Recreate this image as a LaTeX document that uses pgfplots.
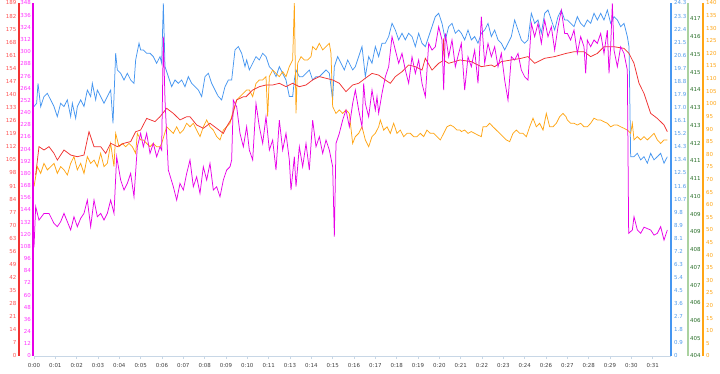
\documentclass[border=0pt]{standalone}
\usepackage{fontspec}
\setmainfont{DejaVu Sans}
\usepackage{pgfplots}
\pgfplotsset{compat=1.18}
\definecolor{redc}{RGB}{240,50,50}
\definecolor{redlab}{RGB}{255,80,80}
\definecolor{magc}{RGB}{232,0,232}
\definecolor{maglab}{RGB}{255,50,255}
\definecolor{bluec}{RGB}{70,150,240}
\definecolor{bluelab}{RGB}{80,155,235}
\definecolor{orangec}{RGB}{255,165,20}
\definecolor{greenline}{RGB}{170,210,160}
\definecolor{greenlab}{RGB}{40,110,40}
\definecolor{xline}{RGB}{200,215,230}
\pgfplotsset{
  base/.style={scale only axis, width=637bp, height=353bp, xmin=0, xmax=1911,
    at={(0,0)}, anchor=south west,
    axis line style={-},
    /pgf/number format/assume math mode=true,
    tick label style={font=\fontsize{5.5}{6}\selectfont},
    major tick length=0pt,
    every axis plot/.append style={line width=0.75bp, mark=none},
  },
}
\begin{document}
\begin{tikzpicture}
% x axis
\begin{axis}[base, hide y axis, ymin=0, ymax=1, axis x line*=bottom,
  x axis line style={draw=xline, line width=1bp},
  xtick={0,64,...,1856},
  xticklabels={0:00,0:01,0:02,0:03,0:04,0:05,0:06,0:07,0:08,0:09,0:10,0:11,0:13,0:14,0:15,0:16,0:17,0:18,0:19,0:20,0:21,0:22,0:23,0:24,0:26,0:27,0:28,0:29,0:30,0:31},
  major tick length=3bp, tick align=outside, xtick style={draw=xline, line width=0.8bp},
  xticklabel style={text=black!75, inner sep=1bp, yshift=-3bp}]
\end{axis}
% blue
\begin{axis}[base, hide x axis, axis y line*=right, ymin=0, ymax=24.3,
  ytick={0,0.9,...,24.4},
  yticklabels={0,0.9,1.8,2.7,3.6,4.5,5.4,6.3,7.2,8.1,8.9,9.8,10.7,11.6,12.5,13.4,14.3,15.2,16.1,17.0,17.9,18.8,19.7,20.6,21.5,22.4,23.3,24.3},
  y axis line style={draw=bluec, line width=2bp},
  yticklabel style={text=bluelab, inner sep=1bp, anchor=west, xshift=2bp}]
\addplot[bluec] coordinates {
(0,17.17)(8,17.40)(12,18.77)(20,17.17)(30,17.86)(40,18.08)(50,17.63)(60,17.17)(70,16.48)(80,17.40)(90,17.17)(100,17.63)(110,16.48)(115,17.40)(125,16.36)(130,17.17)(140,17.63)(150,17.17)(160,18.31)(170,17.86)(175,18.77)(185,17.63)(190,18.31)(200,17.86)(210,17.40)(220,17.86)(230,18.31)(237,16.02)(245,20.84)(250,19.69)(260,19.46)(270,19.00)(280,19.46)(290,19.00)(300,18.77)(305,20.38)(315,21.53)(320,21.07)
(328,21.07)(338,20.84)(348,20.84)(358,20.61)(368,20.15)(378,20.61)(383,20.15)(388,24.28)(393,19.92)(403,19.23)(413,18.54)(423,19.00)(433,18.77)(443,19.00)(453,18.54)(463,19.23)(473,18.77)(483,18.54)(493,18.31)(503,17.86)(513,19.23)(523,19.46)(533,18.77)(543,18.31)(553,17.86)(563,17.63)(573,18.54)(583,19.00)(593,19.00)(603,21.07)(613,21.30)(623,20.84)(633,19.92)(638,20.38)
(646,19.69)(656,20.15)(666,20.61)(676,20.38)(686,20.84)(696,20.61)(706,19.92)(716,19.69)(726,19.23)(736,19.92)(746,19.46)(756,19.00)(766,17.86)(776,17.86)(781,19.00)(786,19.69)(796,19.23)(806,19.23)(816,19.46)(826,19.69)(836,19.00)(846,19.23)(856,19.23)(866,19.46)(876,19.69)(886,19.46)(896,17.63)(901,19.92)(911,20.61)(921,20.15)(931,19.69)(941,20.38)(951,19.92)(956,19.69)
(964,19.92)(974,20.61)(984,21.30)(994,19.23)(1004,20.61)(1014,20.15)(1024,21.30)(1034,20.61)(1044,21.53)(1054,21.53)(1064,21.99)(1074,22.90)(1084,22.44)(1094,21.76)(1104,22.22)(1114,21.76)(1124,22.22)(1134,21.99)(1144,21.30)(1154,22.22)(1164,21.53)(1174,21.30)(1184,21.99)(1194,22.67)(1204,23.36)(1214,23.59)(1224,22.90)(1234,21.76)(1244,22.67)(1254,22.90)(1264,22.22)(1274,22.44)
(1282,22.22)(1292,21.76)(1302,22.44)(1312,21.76)(1322,21.99)(1332,21.53)(1342,22.22)(1352,22.44)(1362,22.90)(1372,21.99)(1382,22.44)(1392,21.76)(1402,21.53)(1412,21.07)(1422,21.53)(1432,21.99)(1442,23.13)(1452,22.44)(1462,21.76)(1472,21.53)(1482,21.76)(1492,23.59)(1502,22.90)(1512,23.13)(1522,22.22)(1532,23.59)(1542,23.82)(1552,23.13)(1562,22.44)(1572,23.36)(1582,23.82)(1592,23.13)
(1600,23.13)(1610,22.90)(1620,22.67)(1630,23.36)(1640,22.90)(1650,22.67)(1660,23.13)(1670,22.90)(1680,23.59)(1690,23.13)(1700,23.59)(1710,23.13)(1720,23.82)(1730,22.90)(1740,23.36)(1750,23.13)(1760,22.67)(1770,22.90)(1780,21.99)(1785,21.30)(1790,13.72)(1800,13.72)(1810,13.95)(1820,13.50)(1830,13.72)(1840,13.27)(1850,13.95)(1860,13.50)(1870,13.72)(1880,13.95)(1890,13.27)(1900,13.72)
};
\end{axis}
% green (axis only)
\begin{axis}[base, hide x axis, axis y line*=right, ymin=0, ymax=19.9,
  ytick={0,1,...,19},
  yticklabels={404,405,406,406,407,407,408,409,409,410,411,411,412,413,413,414,415,415,416,417},
  y axis line style={draw=greenline, line width=2bp, xshift=17bp},
  yticklabel style={text=greenlab, inner sep=1bp, anchor=west, xshift=18bp}]
\end{axis}
% orange
\begin{axis}[base, hide x axis, axis y line*=right, ymin=0, ymax=140,
  ytick={0,5,...,140},
  y axis line style={draw=orangec, line width=2bp, xshift=32bp},
  yticklabel style={text=orangec, inner sep=1bp, anchor=west, xshift=34bp}]
\addplot[orangec] coordinates {
(0,67.2)(10,75.1)(20,72.4)(30,76.4)(40,73.8)(50,75.1)(60,76.4)(70,72.4)(80,75.1)(90,73.8)(100,71.8)(110,76.4)(120,79.1)(130,73.8)(140,76.4)(150,72.4)(160,79.1)(170,76.4)(180,77.7)(190,75.1)(200,80.4)(210,75.1)(220,76.4)(230,84.3)(240,75.1)(245,88.3)(255,83.0)(265,84.3)(275,83.0)(285,84.3)(295,83.0)(305,80.4)(310,88.3)(320,85.7)
(328,85.7)(338,84.3)(348,83.0)(358,84.3)(368,83.0)(378,83.0)(383,84.3)(398,90.9)(418,88.3)(428,90.9)(438,88.3)(448,89.6)(458,92.3)(468,90.9)(478,92.3)(488,89.6)(498,87.0)(508,90.9)(518,93.6)(528,90.9)(538,89.6)(548,87.0)(558,85.7)(568,89.6)(578,90.9)(588,92.3)(598,97.6)(608,101.5)(618,102.9)(628,104.2)(638,105.5)
(646,105.5)(656,102.9)(666,108.1)(676,109.5)(686,109.5)(696,110.8)(701,94.9)(706,110.8)(716,113.4)(726,112.1)(736,110.8)(746,112.8)(756,110.8)(766,114.8)(776,117.4)(781,139.9)(786,96.2)(791,116.1)(801,118.7)(811,117.4)(821,117.4)(831,118.7)(836,122.7)(846,121.4)(856,124.0)(866,121.4)(876,122.7)(886,124.0)(891,120.0)(896,98.9)(906,96.2)(916,97.6)(926,96.2)(936,97.6)(946,96.2)(956,84.3)
(964,87.0)(974,88.3)(984,90.9)(994,85.7)(1004,83.0)(1014,87.0)(1024,88.3)(1034,90.9)(1039,93.6)(1049,89.6)(1059,90.9)(1069,88.3)(1079,92.3)(1089,88.3)(1099,89.6)(1109,87.0)(1119,88.3)(1129,88.3)(1139,87.0)(1149,87.0)(1159,88.3)(1169,87.0)(1179,89.6)(1189,88.3)(1199,88.3)(1209,87.0)(1219,85.7)(1229,88.3)(1239,90.9)(1249,91.6)(1259,90.9)(1269,89.6)(1278,89.6)
(1282,89.0)(1292,89.6)(1302,88.3)(1312,89.0)(1322,88.3)(1332,87.6)(1342,87.0)(1347,90.9)(1357,90.9)(1367,92.3)(1377,90.9)(1387,89.6)(1397,88.3)(1407,87.0)(1417,85.7)(1427,85.0)(1437,88.3)(1447,89.6)(1457,88.3)(1467,88.3)(1477,87.0)(1487,90.9)(1497,94.3)(1507,90.9)(1517,92.3)(1527,89.6)(1537,96.2)(1547,90.9)(1557,90.9)(1567,92.3)(1577,94.9)(1587,96.2)(1596,94.9)
(1600,93.6)(1610,92.3)(1620,92.3)(1630,91.6)(1640,92.3)(1650,90.9)(1660,90.9)(1670,92.3)(1680,94.3)(1690,93.6)(1700,93.6)(1710,92.9)(1720,92.3)(1730,90.9)(1740,91.6)(1750,91.6)(1760,90.9)(1770,90.3)(1780,89.6)(1790,88.3)(1795,92.3)(1800,85.7)(1810,87.0)(1820,85.7)(1830,87.0)(1840,85.7)(1850,87.0)(1860,88.3)(1870,85.7)(1880,84.3)(1890,85.7)(1900,85.7)
};
\end{axis}
% red
\begin{axis}[base, hide x axis, axis y line*=left, ymin=0, ymax=189,
  ytick={0,7,...,189},
  y axis line style={draw=redc, line width=2.5bp, xshift=-15bp},
  yticklabel style={text=redlab, inner sep=1bp, anchor=east, xshift=-16.5bp}]
\addplot[redc] coordinates {
(5,96.9)(15,112.1)(30,110.3)(45,112.1)(60,108.5)(70,104.9)(90,110.3)(110,107.6)(130,106.7)(150,107.6)(165,120.1)(180,112.1)(200,112.1)(215,108.5)(230,113.9)(250,112.1)(270,113.9)(290,114.8)(305,120.1)(320,121.0)
(338,127.2)(363,125.5)(378,128.1)(398,132.6)(418,129.9)(438,126.4)(458,128.1)(468,128.1)(488,123.7)(508,121.9)(528,124.6)(548,121.9)(568,119.2)(578,122.8)(593,127.2)(608,137.1)(628,138.8)
(636,138.8)(656,142.4)(676,144.2)(696,145.1)(716,145.1)(736,146.0)(756,144.2)(776,146.0)(796,144.2)(816,145.1)(836,147.8)(856,149.6)(876,148.7)(896,147.8)(916,146.0)(936,141.5)(956,145.1)
(974,146.0)(994,148.7)(1014,151.3)(1034,150.4)(1054,147.8)(1069,146.0)(1084,149.6)(1104,152.2)(1124,155.8)(1144,154.9)(1164,153.1)(1174,159.4)(1194,153.1)(1214,156.7)(1226,158.0)(1229,170.0)(1232,158.0)(1244,156.7)(1278,158.5)
(1312,157.6)(1342,154.9)(1372,155.8)(1382,154.9)(1402,157.6)(1432,158.5)(1462,159.4)(1482,160.3)(1502,156.7)(1532,159.4)(1562,160.3)(1596,162.0)
(1620,162.9)(1650,162.9)(1670,160.3)(1690,162.0)(1710,165.6)(1740,165.6)(1770,164.7)(1785,162.0)(1800,156.7)(1815,146.0)(1830,140.6)(1850,129.9)(1870,127.2)(1890,123.7)(1900,120.1)
};
\end{axis}
% magenta
\begin{axis}[base, hide x axis, axis y line*=left, ymin=0, ymax=348,
  ytick={0,12,...,348},
  y axis line style={draw=magc, line width=2bp, xshift=-1bp},
  yticklabel style={text=maglab, inner sep=1bp, anchor=east, xshift=-2bp}]
\addplot[magc] coordinates {
(0,107)(5,147.2)(15,134.0)(30,140.6)(45,140.6)(60,130.7)(70,127.5)(80,132.4)(90,140.6)(100,132.4)(110,124.2)(120,137.3)(130,127.5)(140,135.7)(150,140.6)(160,153.7)(170,127.5)(180,153.7)(190,137.3)(200,140.6)(210,134.0)(220,140.6)(230,153.7)(240,140.6)(248,196.5)(260,173.5)(270,163.6)(280,170.2)(290,180.0)(300,157.0)(310,206.3)(320,219.5)
(328,206.3)(338,219.5)(348,199.7)(358,209.6)(368,196.5)(378,206.3)(383,203.0)(388,314.8)(393,252.3)(403,183.3)(418,166.9)(428,153.7)(438,170.2)(448,163.6)(458,180.0)(468,193.2)(478,166.9)(488,176.7)(498,160.3)(508,186.6)(518,173.5)(528,189.9)(538,163.6)(548,166.9)(558,157.0)(568,173.5)(578,183.3)(588,186.6)(593,193.2)(598,252.3)(608,245.7)(618,219.5)(628,206.3)(638,226.0)
(646,203.0)(656,193.2)(666,249.0)(676,226.0)(686,209.6)(696,235.9)(706,203.0)(716,212.9)(726,183.3)(736,232.6)(746,203.0)(756,219.5)(766,193.2)(771,163.6)(781,196.5)(786,166.9)(796,206.3)(806,186.6)(816,209.6)(826,183.3)(836,232.6)(846,206.3)(856,216.2)(866,199.7)(876,212.9)(886,203.0)(896,186.6)(901,117.6)(906,209.6)(916,219.5)(926,232.6)(936,242.5)(946,226.0)(956,249.0)
(964,262.2)(974,242.5)(984,226.0)(989,268.8)(994,249.0)(1004,235.9)(1014,262.2)(1024,242.5)(1029,255.6)(1034,239.2)(1044,258.9)(1054,275.3)(1064,285.2)(1074,314.8)(1084,301.6)(1094,288.5)(1104,298.3)(1114,281.9)(1124,268.8)(1134,295.0)(1144,278.6)(1154,291.8)(1164,268.8)(1174,255.6)(1184,308.2)(1194,301.6)(1204,304.9)(1214,324.6)(1224,311.5)(1229,262.2)(1234,318.0)(1244,295.0)(1254,311.5)(1264,285.2)(1274,298.3)
(1282,308.2)(1292,262.2)(1302,295.0)(1312,285.2)(1322,301.6)(1332,268.8)(1342,334.5)(1352,288.5)(1362,308.2)(1372,295.0)(1382,304.9)(1392,285.2)(1402,298.3)(1412,272.0)(1422,252.3)(1432,295.0)(1442,291.8)(1452,298.3)(1462,281.9)(1472,275.3)(1482,272.0)(1492,327.9)(1502,314.8)(1512,327.9)(1522,308.2)(1532,331.2)(1542,314.8)(1552,324.6)(1562,301.6)(1572,324.6)(1582,341.0)(1592,318.0)
(1600,318.0)(1610,311.5)(1620,321.3)(1630,298.3)(1640,314.8)(1650,304.9)(1655,278.6)(1660,311.5)(1670,304.9)(1680,311.5)(1690,308.2)(1700,318.0)(1710,298.3)(1720,321.3)(1725,278.6)(1730,304.9)(1735,347.6)(1740,301.6)(1750,285.2)(1760,304.9)(1770,298.3)(1780,281.9)(1784,120.9)(1795,124.2)(1800,137.3)(1810,124.2)(1820,120.9)(1830,127.0)(1850,124.2)(1860,119.2)(1870,120.9)(1880,127.5)(1890,114.3)(1900,124.2)
};
\end{axis}
\pgfresetboundingbox
\useasboundingbox (-34bp,-18bp) rectangle (686bp,356bp);
\end{tikzpicture}
\end{document}
